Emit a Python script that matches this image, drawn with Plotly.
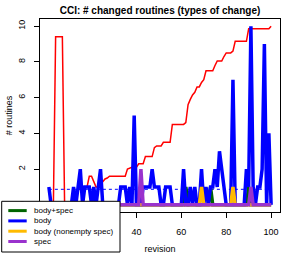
import plotly.graph_objects as go

revision = list(range(1, 101))

body = [1, 0, 0, 0, 0, 0, 0, 0, 0, 0,
        0, 1, 0, 1, 2, 0, 1, 1, 1, 0,
        1, 0, 1, 2, 0, 0, 0, 0, 0, 0,
        0, 0, 1, 1, 1, 0, 1, 0, 5, 0,
        0, 0, 1, 1, 1, 1, 2, 1, 1, 1,
        0, 0, 1, 1, 1, 0, 0, 0, 0, 0,
        2, 0, 0, 1, 0, 1, 0, 0, 2, 0,
        1, 0, 1, 1, 2, 1, 3, 2, 1, 0,
        0, 0, 7, 0, 0, 0, 0, 0, 2, 1,
        10, 1, 0, 1, 1, 2, 9, 0, 4, 0]

body_spec = [0] * 10 + [0] * 10 + [0] * 10 + [0] * 10 + [0] * 10 + \
    [0] * 10 + [0, 1, 0, 0, 0, 0, 0, 0, 0, 0] + [0, 0, 1, 0, 0, 0, 0, 0, 0, 0] + \
    [0, 0, 0, 0, 0, 0, 0, 0, 0, 1] + [0] * 10

body_nonempty_spec = [0] * 60 + [0, 0, 0, 0, 0, 0, 0, 0, 1, 0] + [0] * 10 + \
    [0, 0, 1, 0, 0, 0, 0, 0, 0, 0] + [0] * 10

spec = [0] * 40 + [0, 2, 0, 0, 0, 0, 0, 0, 0, 0] + [0] * 40 + \
    [1, 0, 0, 0, 0, 0, 0, 0, 0, 0]

cumulative = [0, 0, 0, 9.4, 9.4, 9.4, 9.4, 0, 0, 0,
              0, 0, 0.4, 0.8, 1.0, 1.0, 1.0, 1.0, 1.6, 1.6,
              1.3, 1.0, 1.0, 1.2, 1.3, 1.45, 1.5, 1.6, 1.6, 1.6,
              1.6, 1.6, 1.6, 1.6, 1.6, 2.0, 2.05, 2.1, 2.1, 2.1,
              2.3, 2.3, 2.3, 2.7, 2.7, 2.7, 2.7, 3.2, 3.3, 3.3,
              3.3, 3.5, 3.5, 3.5, 3.5, 4.5, 4.5, 4.5, 4.5, 4.5,
              4.5, 4.6, 5.6, 5.9, 6.15, 6.3, 6.6, 6.6, 6.85, 7.0,
              7.5, 7.5, 7.5, 7.5, 7.8, 8.05, 8.05, 8.05, 8.3, 8.5,
              8.5, 8.5, 8.6, 9.15, 9.15, 9.15, 9.15, 9.15, 9.15, 9.85,
              9.85, 9.85, 9.85, 9.85, 9.85, 9.85, 9.85, 9.85, 9.85, 10.0]

body_mean = 0.87

x_ticks = [0, 20, 40, 60, 80, 100]
# labels for 0 and 20 lie under the legend box in the reference
x_tick_labels = ["", "", "40", "60", "80", "100"]
y_ticks = [0, 2, 4, 6, 8, 10]
y_tick_labels = ["0", "2", "4", "6", "8", "10"]

series_names = ["body+spec", "body", "body (nonempty spec)", "spec"]
series_colors = ["#006400", "#0000FF", "#FFBB00", "#9A32CD"]
series_values = [body_spec, body, body_nonempty_spec, spec]

FONT = "Liberation Sans, Arial, sans-serif"
W, H = 294, 254
L, R, T, B = 40, 280, 19, 212


def px(xp):
    return (xp - L) / (R - L)


def py(yp):
    return (B - yp) / (B - T)


fig = go.Figure()
fig.add_trace(go.Scatter(x=revision, y=cumulative, mode="lines",
                         line=dict(color="#FF0000", width=1.5), showlegend=False))
fig.add_trace(go.Scatter(x=[revision[0], revision[-1]], y=[body_mean, body_mean], mode="lines",
                         line=dict(color="#0000FF", width=1, dash="dot"), showlegend=False))
for name, color, vals in zip(series_names, series_colors, series_values):
    fig.add_trace(go.Scatter(x=revision, y=vals, mode="lines", name=name,
                             line=dict(color=color, width=3.5), showlegend=False))

shapes = [dict(type="rect", xref="paper", yref="paper",
               x0=px(1.7), x1=px(120), y0=py(252), y1=py(201.3),
               fillcolor="white", line=dict(color="black", width=1), layer="above")]
annotations = []
rows = [210.6, 220.9, 231.2, 241.5]
for name, color, ry in zip(series_names, series_colors, rows):
    shapes.append(dict(type="line", xref="paper", yref="paper",
                       x0=px(8.3), x1=px(26.7), y0=py(ry), y1=py(ry),
                       line=dict(color=color, width=3), layer="above"))
    annotations.append(dict(xref="paper", yref="paper", x=px(32.5), y=py(ry),
                            xanchor="left", yanchor="middle", showarrow=False,
                            text=name, borderpad=0,
                            font=dict(family=FONT, size=8, color="black")))

fig.update_layout(
    width=W, height=H,
    margin=dict(l=L, r=W - R, t=T, b=H - B, pad=0),
    paper_bgcolor="white", plot_bgcolor="white",
    title=dict(text="<b>CCI: # changed routines (types of change)</b>",
               x=px(160), xref="paper", y=(H - 10) / H, yref="container",
               xanchor="center", yanchor="middle",
               font=dict(family=FONT, size=10, color="black")),
    xaxis=dict(range=[-2.96, 103.96], tickvals=x_ticks, ticktext=x_tick_labels,
               ticks="outside", ticklen=5,
               tickcolor="black", showgrid=False, zeroline=False, showline=True,
               linecolor="black", linewidth=1, mirror=True, ticklabelstandoff=6,
               automargin=False,
               tickfont=dict(family=FONT, size=9, color="black"),
               title=dict(text="revision", standoff=9,
                          font=dict(family=FONT, size=9, color="black"))),
    yaxis=dict(range=[-0.4, 10.4], tickvals=y_ticks, ticktext=y_tick_labels,
               ticks="outside", ticklen=5,
               tickcolor="black", showgrid=False, zeroline=False, showline=True,
               linecolor="black", linewidth=1, mirror=True, tickangle=-90,
               ticklabelstandoff=5, automargin=False,
               tickfont=dict(family=FONT, size=9, color="black"),
               title=dict(text="# routines", standoff=3,
                          font=dict(family=FONT, size=9, color="black"))),
    shapes=shapes, annotations=annotations,
)

fig.write_html("out.html", config={"displayModeBar": False},
               post_script="document.body.style.margin='0';")
